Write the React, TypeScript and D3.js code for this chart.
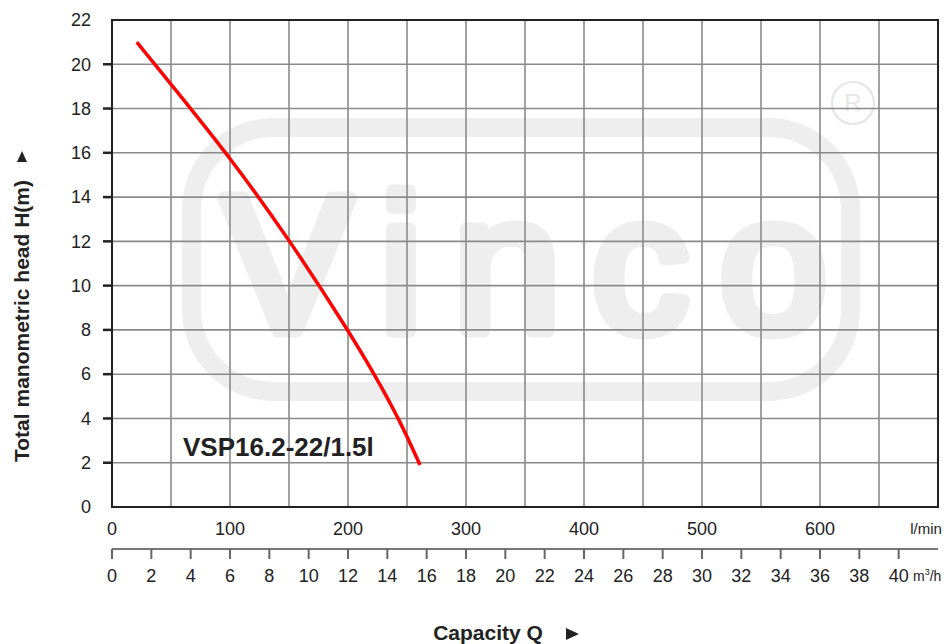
import React from 'react'
import * as d3 from 'd3'

// pump curve: capacity (l/min) vs head (m)
const flowLpm = [21, 50, 100, 150, 200, 224, 244, 261]
const headM = [21.0, 19.1, 15.8, 12.1, 8.0, 5.85, 3.9, 1.9]

const headTicks = d3.range(0, 23, 2)
const flowTicks = [0, 100, 200, 300, 400, 500, 600]
const cubicTicks = d3.range(0, 41, 2)
const gridFlow = d3.range(0, 701, 50)

const modelName = 'VSP16.2-22/1.5l'

const W = 949
const H = 644
const margin = { left: 112, right: 11, top: 20, bottom: 137 }

const font = '"Liberation Sans", Arial, sans-serif'
const wm = '#eeeeee'

function App() {
    const x = d3.scaleLinear().domain([0, 700]).range([margin.left, W - margin.right])
    const xm = d3.scaleLinear().domain([0, 42]).range([margin.left, W - margin.right])
    const y = d3.scaleLinear().domain([0, 22]).range([H - margin.bottom, margin.top])

    const pts = flowLpm.map((q, i) => [q, headM[i]] as [number, number])
    // b-spline smooths out the reading noise
    const line = d3.line<[number, number]>()
        .x(d => x(d[0]))
        .y(d => y(d[1]))
        .curve(d3.curveBasis)

    const x0 = x(0), x1 = x(700), y0 = y(0), y1 = y(22)
    const axis2Y = 549

    return (
        <svg width={W} height={H} style={{ position: 'absolute', left: 0, top: 0, background: '#fff' }}
            fontFamily={font}>
            {/* watermark logo */}
            <rect x={191.5} y={127.5} width={659} height={264} rx={82} ry={82}
                fill="none" stroke={wm} strokeWidth={19} />
            <circle cx={853} cy={103} r={21} fill="none" strokeWidth={2.2} stroke="#e6e6e6" />
            <text x={853} y={111} textAnchor="middle" fontSize={24} fill="#e6e6e6">R</text>
            <text x={223} y={331} fontSize={193} fill={wm} stroke={wm} strokeWidth={13}
                strokeLinejoin="round" textLength={604} lengthAdjust="spacing">Vinco</text>

            {/* grid */}
            <g stroke="#8a8a8a" strokeWidth={1.6}>
                {gridFlow.map(q => (
                    <line key={'v' + q} x1={x(q)} x2={x(q)} y1={y1} y2={y0} />
                ))}
                {headTicks.map(h => (
                    <line key={'h' + h} x1={x0} x2={x1} y1={y(h)} y2={y(h)} />
                ))}
            </g>
            <rect x={x0} y={y1} width={x1 - x0} height={y0 - y1} fill="none" stroke="#222" strokeWidth={2} />

            {/* y axis */}
            <g>
                {headTicks.filter(h => h > 0 && h < 22).map(h => (
                    <line key={'t' + h} x1={x0 - 9} x2={x0} y1={y(h)} y2={y(h)} stroke="#222" strokeWidth={2.5} />
                ))}
                {headTicks.map(h => (
                    <text key={'l' + h} x={91} y={y(h)} dy="0.35em" textAnchor="end" fontSize={18} fill="#222">{h}</text>
                ))}
            </g>

            {/* top x axis: l/min */}
            {flowTicks.map(q => (
                <text key={'q' + q} x={x(q)} y={535} textAnchor="middle" fontSize={18} fill="#222">{q}</text>
            ))}
            <text x={926} y={534} textAnchor="middle" fontSize={15} fill="#222">l/min</text>

            {/* bottom x axis: m3/h */}
            <line x1={x0} x2={x1} y1={axis2Y} y2={axis2Y} stroke="#777" strokeWidth={2} />
            {cubicTicks.map(c => (
                <g key={'c' + c}>
                    <line x1={xm(c)} x2={xm(c)} y1={axis2Y} y2={axis2Y + 10} stroke="#666" strokeWidth={2} />
                    <text x={xm(c)} y={582} textAnchor="middle" fontSize={18} fill="#222">{c}</text>
                </g>
            ))}
            <text x={913} y={581} fontSize={14} fill="#222">m<tspan dy={-6} fontSize={9}>3</tspan><tspan dy={6}>/h</tspan></text>

            {/* curve */}
            <path d={line(pts) ?? ''} fill="none" stroke="#ff0000" strokeWidth={3.5} />
            <text x={183} y={456} fontSize={26} fontWeight="bold" fill="#222">{modelName}</text>

            {/* axis titles */}
            <text transform="translate(29,321) rotate(-90)" textAnchor="middle" fontSize={21} fontWeight="bold" fill="#222">
                Total manometric head H(m)
            </text>
            <path d="M17,162 L27,162 L22,151 Z" fill="#222" />
            <text x={488} y={640} textAnchor="middle" fontSize={21} fontWeight="bold" fill="#222">Capacity Q</text>
            <path d="M566,628 L579,634 L566,640 Z" fill="#222" />
        </svg>
    )
}

export default App
